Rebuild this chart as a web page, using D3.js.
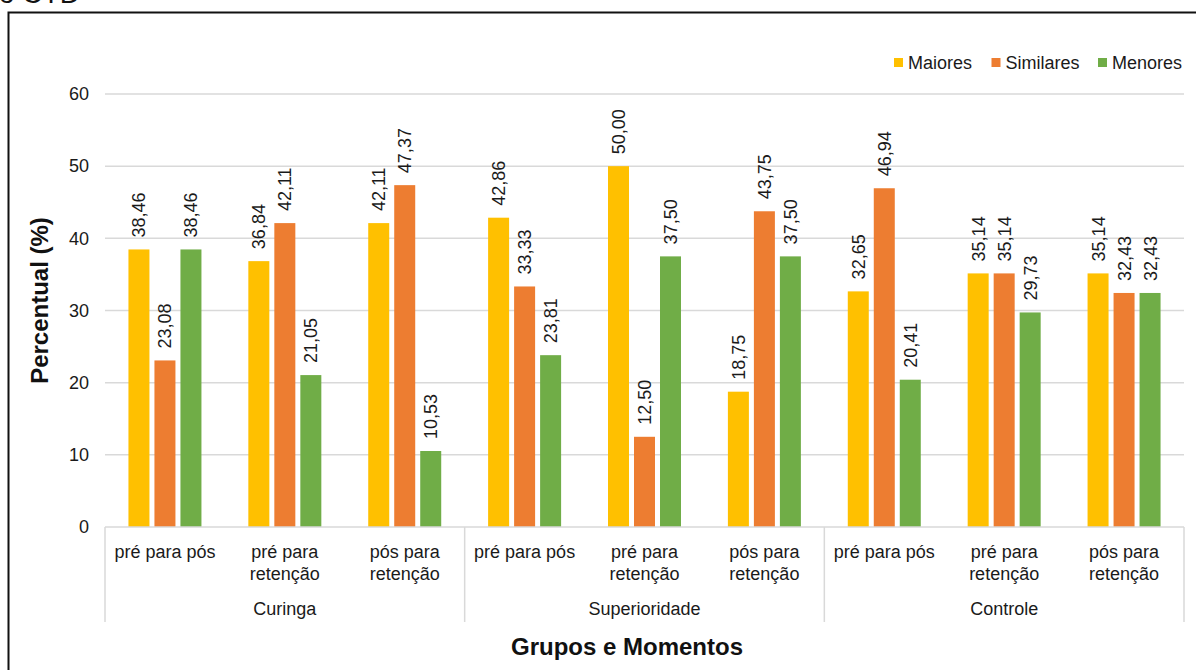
<!DOCTYPE html>
<html>
<head>
<meta charset="utf-8">
<script src="https://cdn.jsdelivr.net/npm/d3@7"></script>
<style>
  html, body { margin: 0; padding: 0; background: #fff; }
  svg { display: block; font-family: "Liberation Sans", Arial, sans-serif; }
</style>
</head>
<body>
<svg id="chart" width="1196" height="670"></svg>
<script>
// Groups and moments (x axis, two levels)
const groups = ["Curinga", "Superioridade", "Controle"];
const moments = ["pré para pós", "pré para retenção", "pós para retenção"];
const momentLines = [["pré para pós"], ["pré para", "retenção"], ["pós para", "retenção"]];

// Series
const seriesNames = ["Maiores", "Similares", "Menores"];
const seriesColors = ["#FFC000", "#ED7D31", "#70AD47"];

// Percentages per group/moment, in series order
const maiores   = [38.46, 36.84, 42.11, 42.86, 50.00, 18.75, 32.65, 35.14, 35.14];
const similares = [23.08, 42.11, 47.37, 33.33, 12.50, 43.75, 46.94, 35.14, 32.43];
const menores   = [38.46, 21.05, 10.53, 23.81, 37.50, 37.50, 20.41, 29.73, 32.43];

const yTicks = [0, 10, 20, 30, 40, 50, 60];

const seriesValues = [maiores, similares, menores];
const categories = [];
groups.forEach((g, gi) => moments.forEach((m, mi) => categories.push({ key: g + "|" + m, group: g, mi })));

const svg = d3.select("#chart");
const fmt = v => d3.format(".2f")(v).replace(".", ",");

// Title fragment above the frame
svg.append("text")
  .attr("x", -1).attr("y", 3)
  .attr("font-size", 28).attr("fill", "#111")
  .text("o CTD");

// Outer frame
svg.append("path")
  .attr("d", "M8.5,680 L8.5,12.5 L1210,12.5")
  .attr("fill", "none").attr("stroke", "#111").attr("stroke-width", 2);

const plotLeft = 105, plotRight = 1184, plotTop = 94, plotBottom = 527;

const y = d3.scaleLinear().domain([0, 60]).range([plotBottom, plotTop]);
const x = d3.scaleBand().domain(categories.map(c => c.key)).range([plotLeft, plotRight]).padding(0);
const xs = d3.scaleBand().domain(seriesNames).range([-36.5, 36.5]).paddingInner(5 / 26).paddingOuter(0);

// Gridlines
svg.append("g").selectAll("line").data(yTicks.filter(t => t > 0)).join("line")
  .attr("x1", plotLeft).attr("x2", plotRight)
  .attr("y1", d => y(d)).attr("y2", d => y(d))
  .attr("stroke", "#d9d9d9").attr("stroke-width", 1.5);

// Y axis tick labels
const yAxis = d3.axisLeft(y).tickValues(yTicks).tickSize(0).tickPadding(0);
const gy = svg.append("g").attr("transform", `translate(${plotLeft - 16},0)`).call(yAxis);
gy.select(".domain").remove();
gy.selectAll("text").attr("font-size", 18).attr("fill", "#1a1a1a")
  .attr("font-family", "Liberation Sans, Arial, sans-serif");

// Bars
const barData = [];
categories.forEach((c, ci) => seriesNames.forEach((s, si) => {
  barData.push({ cat: c.key, series: s, si, value: seriesValues[si][ci] });
}));
const cx = d => x(d.cat) + x.bandwidth() / 2 + xs(d.series);

svg.append("g").selectAll("rect").data(barData).join("rect")
  .attr("x", d => cx(d))
  .attr("width", xs.bandwidth())
  .attr("y", d => y(d.value))
  .attr("height", d => y(0) - y(d.value))
  .attr("fill", d => seriesColors[d.si]);

// Value labels (rotated)
svg.append("g").selectAll("text").data(barData).join("text")
  .attr("transform", d => `translate(${cx(d) + xs.bandwidth() / 2 + 6.5},${y(d.value) - 12}) rotate(-90)`)
  .attr("font-size", 18).attr("fill", "#1a1a1a")
  .text(d => fmt(d.value));

// Category axis baseline and group separators
svg.append("line")
  .attr("x1", plotLeft).attr("x2", plotRight)
  .attr("y1", y(0)).attr("y2", y(0))
  .attr("stroke", "#d9d9d9").attr("stroke-width", 1.5);

const groupEdges = [0, 3, 6, 9].map(i => i < 9 ? x(categories[i].key) : plotRight);
svg.append("g").selectAll("line").data(groupEdges).join("line")
  .attr("x1", d => d).attr("x2", d => d)
  .attr("y1", y(0)).attr("y2", 622)
  .attr("stroke", "#d9d9d9").attr("stroke-width", 1.5);

// Moment labels
const mLabels = svg.append("g").selectAll("text").data(categories).join("text")
  .attr("x", d => x(d.key) + x.bandwidth() / 2)
  .attr("y", 558)
  .attr("text-anchor", "middle")
  .attr("font-size", 18).attr("fill", "#1a1a1a");
mLabels.selectAll("tspan").data(d => momentLines[d.mi].map(t => ({ t, x: x(d.key) + x.bandwidth() / 2 }))).join("tspan")
  .attr("x", d => d.x)
  .attr("dy", (d, i) => i === 0 ? 0 : 21.5)
  .text(d => d.t);

// Group labels
svg.append("g").selectAll("text").data(groups).join("text")
  .attr("x", (g, gi) => (groupEdges[gi] + groupEdges[gi + 1]) / 2)
  .attr("y", 615)
  .attr("text-anchor", "middle")
  .attr("font-size", 18).attr("fill", "#1a1a1a")
  .text(g => g);

// Axis titles
svg.append("text")
  .attr("x", 627).attr("y", 655)
  .attr("text-anchor", "middle")
  .attr("font-size", 24).attr("font-weight", "bold").attr("fill", "#111")
  .text("Grupos e Momentos");

svg.append("text")
  .attr("transform", `translate(48,${(plotTop + plotBottom) / 2 - 10}) rotate(-90)`)
  .attr("text-anchor", "middle")
  .attr("font-size", 24).attr("font-weight", "bold").attr("fill", "#111")
  .text("Percentual (%)");

// Legend
const legendX = [894, 991.5, 1098];
const lg = svg.append("g").selectAll("g").data(seriesNames).join("g")
  .attr("transform", (d, i) => `translate(${legendX[i]},58)`);
lg.append("rect").attr("width", 9).attr("height", 9).attr("fill", (d, i) => seriesColors[i]);
lg.append("text").attr("x", 14).attr("y", 10.5)
  .attr("font-size", 18).attr("fill", "#1a1a1a")
  .text(d => d);
</script>
</body>
</html>
